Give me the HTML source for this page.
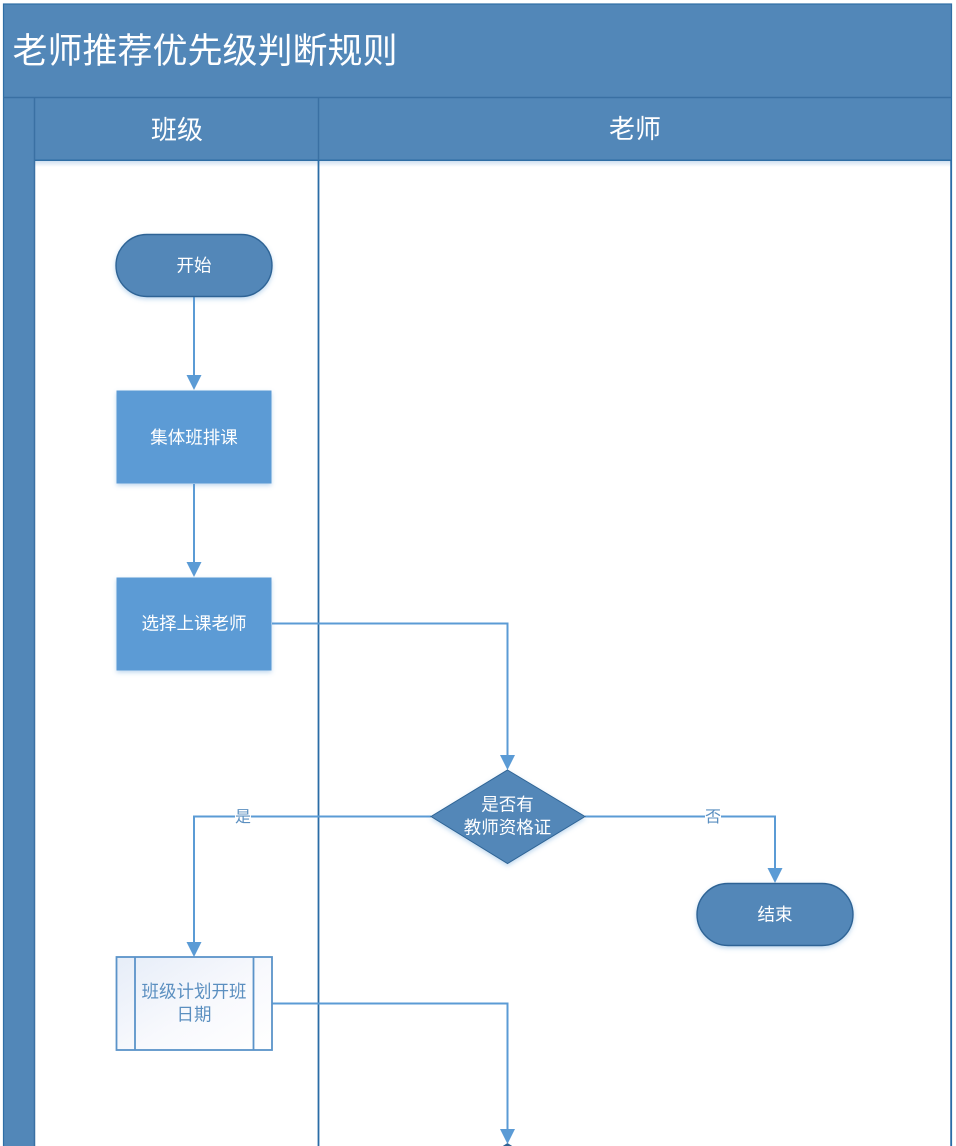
<!DOCTYPE html>
<html lang="zh">
<head>
<meta charset="utf-8">
<style>
html,body{margin:0;padding:0;background:#fff;width:956px;height:1146px;overflow:hidden}
svg{display:block}
text{font-family:"Liberation Sans","Noto Sans CJK SC",sans-serif;text-anchor:middle}
</style>
</head>
<body>
<svg width="956" height="1146" viewBox="0 0 956 1146" xmlns="http://www.w3.org/2000/svg">
<defs>
<filter id="s" x="-15%" y="-15%" width="130%" height="140%">
<feDropShadow dx="0" dy="2" stdDeviation="2.5" flood-color="#5b9bd5" flood-opacity=".4"/>
</filter>
<linearGradient id="g" x1="0" y1="0" x2="1" y2="1">
<stop offset="0" stop-color="#e6edf8"/>
<stop offset=".55" stop-color="#f8f9fd"/>
<stop offset="1" stop-color="#ffffff"/>
</linearGradient>
<linearGradient id="hs" x1="0" y1="0" x2="0" y2="1">
<stop offset="0" stop-color="#d0e0f1"/>
<stop offset="1" stop-color="#ffffff"/>
</linearGradient>
</defs>

<!-- pool -->
<rect x="3.5" y="4" width="948" height="1150" fill="#5287b8" stroke="#2f6ea5" stroke-width="1.200"/>
<rect x="35" y="161" width="916" height="990" fill="#fff"/>
<rect x="35" y="161" width="916" height="6" fill="url(#hs)"/>
<line x1="3.500" y1="97.500" x2="951.500" y2="97.500" stroke="#3a70a3" stroke-width="1.500"/>
<line x1="34.500" y1="98" x2="34.500" y2="1146" stroke="#3a70a3" stroke-width="1.500"/>
<line x1="35" y1="160.200" x2="951" y2="160.200" stroke="#2f6ea5" stroke-width="1.500"/>
<line x1="318.500" y1="98" x2="318.500" y2="160" stroke="#3a70a3" stroke-width="1.500"/>
<line x1="318.500" y1="160" x2="318.500" y2="1146" stroke="#2a6ca6" stroke-width="1.800"/>
<line x1="951" y1="160" x2="951" y2="1146" stroke="#2a6ca6" stroke-width="1.500"/>

<text x="205" y="63" font-size="35" fill="#fff">老师推荐优先级判断规则</text>
<text x="177" y="139" font-size="26" fill="#fff">班级</text>
<text x="635" y="138" font-size="26" fill="#fff">老师</text>

<!-- connectors -->
<g fill="none" stroke="#5b9bd5" stroke-width="2">
<path d="M194 297V377"/>
<path d="M194 484V563"/>
<path d="M272 623.500H507.500V756"/>
<path d="M431 816.500H194V943"/>
<path d="M585 816.500H775V870"/>
<path d="M272 1003.500H507.500V1130"/>
</g>
<g fill="#5b9bd5">
<path d="M186.500 375H201.500L194 390Z"/>
<path d="M186.500 562H201.500L194 577Z"/>
<path d="M500 755H515L507.500 770Z"/>
<path d="M186.500 942H201.500L194 957Z"/>
<path d="M767.500 868H782.500L775 883Z"/>
</g>
<rect x="235" y="807" width="16" height="18" fill="#fff"/>
<text x="243" y="822" font-size="16" fill="#5b8fc0">是</text>
<rect x="705" y="807" width="16" height="18" fill="#fff"/>
<text x="713" y="822" font-size="16" fill="#5b8fc0">否</text>

<!-- start -->
<rect x="116" y="234.500" width="156" height="62" rx="31" fill="#5287b8" stroke="#2f6495" stroke-width="1.400" filter="url(#s)"/>
<text x="194" y="271.500" font-size="17.500" fill="#fff">开始</text>

<!-- process -->
<rect x="116.500" y="390.500" width="155" height="93" fill="#5b9bd5" filter="url(#s)"/>
<text x="194" y="443.500" font-size="17.500" fill="#fff">集体班排课</text>
<rect x="116.500" y="577.500" width="155" height="93" fill="#5b9bd5" filter="url(#s)"/>
<text x="194" y="629.500" font-size="17.500" fill="#fff">选择上课老师</text>

<!-- decision -->
<path d="M507.500 770L585 816.500L507.500 863.500L431 816.500Z" fill="#5287b8" stroke="#2f6495" stroke-width="1" filter="url(#s)"/>
<text x="507.500" y="810.500" font-size="17.500" fill="#fff">是否有</text>
<text x="507.500" y="833.500" font-size="17.500" fill="#fff">教师资格证</text>

<!-- end -->
<rect x="697" y="883.500" width="156" height="62" rx="31" fill="#5287b8" stroke="#2f6495" stroke-width="1.400" filter="url(#s)"/>
<text x="775" y="920.500" font-size="17.500" fill="#fff">结束</text>

<!-- subprocess -->
<rect x="116.500" y="957" width="155.500" height="93" fill="url(#g)" stroke="#5b93c9" stroke-width="1.800"/>
<line x1="135" y1="957" x2="135" y2="1050" stroke="#5b93c9" stroke-width="1.800"/>
<line x1="253.500" y1="957" x2="253.500" y2="1050" stroke="#5b93c9" stroke-width="1.800"/>
<text x="194" y="997.500" font-size="17.500" fill="#5b8fc0">班级计划开班</text>
<text x="194" y="1020.500" font-size="17.500" fill="#5b8fc0">日期</text>

<!-- bottom arrow and next decision tip -->
<path d="M507.500 1143L520 1151H495Z" fill="#2f6495"/>
<path d="M500 1129H515L507.500 1144Z" fill="#5b9bd5"/>
</svg>
</body>
</html>
